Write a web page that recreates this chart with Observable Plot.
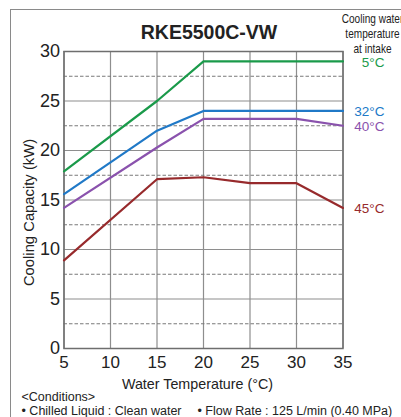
<!DOCTYPE html>
<html>
<head>
<meta charset="utf-8">
<script src="https://cdn.jsdelivr.net/npm/d3@7"></script>
<script src="https://cdn.jsdelivr.net/npm/@observablehq/plot@0.6"></script>
<style>
  html, body { margin: 0; padding: 0; background: #fff; }
  #wrap { position: relative; width: 401px; height: 417px; overflow: hidden; }
  #border { position: absolute; left: 9.5px; top: 8.5px; width: 420px; height: 430px;
            border-left: 1.3px solid #8a8a8a; border-top: 1.3px solid #8a8a8a; pointer-events: none; }
</style>
</head>
<body>
<div id="wrap"><div id="border"></div></div>
<script>
// ---- data ----
const waterTemp = [5, 15, 20, 25, 30, 35];
const cap5C  = [17.9, 25.0, 29.0, 29.0, 29.0, 29.0];
const cap32C = [15.6, 22.0, 24.0, 24.0, 24.0, 24.0];
const cap40C = [14.2, 20.3, 23.2, 23.2, 23.2, 22.5];
const cap45C = [8.9, 17.1, 17.3, 16.7, 16.7, 14.2];
const seriesNames = ["5°C", "32°C", "40°C", "45°C"];
const xTicks = [5, 10, 15, 20, 25, 30, 35];
const yTicks = [0, 5, 10, 15, 20, 25, 30];
const yMinorTicks = [2.5, 7.5, 12.5, 17.5, 22.5, 27.5];
const titleText = "RKE5500C-VW";
const legendTitle = "Cooling water\ntemperature\nat intake";
const xLabel = "Water Temperature (°C)";
const yLabel = "Cooling Capacity (kW)";
const condHead = "<Conditions>";
const cond1 = "• Chilled Liquid : Clean water";
const cond2 = "• Flow Rate : 125 L/min (0.40 MPa)";

// ---- styling ----
const seriesColors = ["#1a9a4a", "#2079c7", "#8a52ad", "#972a2c"];
const font = "'Liberation Sans', Arial, sans-serif";

const seriesValues = [cap5C, cap32C, cap40C, cap45C];
const rows = seriesNames.flatMap((s, i) => waterTemp.map((t, j) => ({series: s, t, cap: seriesValues[i][j]})));
const lastRows = seriesNames.map((s, i) => ({series: s, t: waterTemp[waterTemp.length - 1], cap: seriesValues[i][waterTemp.length - 1]}));

const chart = Plot.plot({
  width: 401,
  height: 417,
  marginLeft: 63.5,
  marginRight: 58.5,
  marginTop: 51,
  marginBottom: 69,
  style: {fontFamily: font, background: "transparent", color: "#222", overflow: "visible"},
  x: {domain: [5, 35]},
  y: {domain: [0, 30]},
  color: {domain: seriesNames, range: seriesColors},
  marks: [
    Plot.gridX({ticks: xTicks, stroke: "#8e8e8e", strokeOpacity: 1, strokeWidth: 1.2}),
    Plot.gridY({ticks: yTicks, stroke: "#8e8e8e", strokeOpacity: 1, strokeWidth: 1.2}),
    Plot.gridY({ticks: yMinorTicks, stroke: "#7a7a7a", strokeOpacity: 1, strokeWidth: 1, strokeDasharray: "3.5,2"}),
    Plot.frame({stroke: "#6e6e6e", strokeWidth: 1.5}),
    Plot.line(rows, {x: "t", y: "cap", z: "series", stroke: "series", strokeWidth: 2.2, strokeLinejoin: "miter"}),
    Plot.text(lastRows, {x: "t", y: "cap", text: "series", fill: "series", dx: 41.5, dy: 1, textAnchor: "end", lineAnchor: "middle", fontSize: 13.5}),
    Plot.axisY({ticks: yTicks, tickSize: 0, tickPadding: 4, fontSize: 18, label: null, fill: "#222"}),
    Plot.axisX({ticks: xTicks, tickSize: 0, tickPadding: 7, fontSize: 17, label: null, fill: "#222"}),
    Plot.text([titleText], {frameAnchor: "top", text: d => d, dx: 5.5, dy: -13, lineAnchor: "bottom", textAnchor: "middle", fontSize: 19.5, fontWeight: "bold", fill: "#222"}),
    Plot.text([legendTitle], {frameAnchor: "top-right", text: d => d, dx: 29.5, dy: 1, lineAnchor: "bottom", textAnchor: "middle", fontSize: 12, lineHeight: 1.25, fill: "#222", className: "legend-title"}),
    Plot.text([yLabel], {frameAnchor: "left", text: d => d, dx: -30.5, dy: 12.5, rotate: -90, lineAnchor: "bottom", textAnchor: "middle", fontSize: 14.8, fill: "#222"}),
    Plot.text([xLabel], {frameAnchor: "bottom", text: d => d, dx: -6, dy: 40, lineAnchor: "bottom", textAnchor: "middle", fontSize: 14.3, fill: "#222"}),
    Plot.text([condHead], {frameAnchor: "bottom-left", text: d => d, dx: -42.5, dy: 52, lineAnchor: "bottom", textAnchor: "start", fontSize: 12.5, fill: "#222"}),
    Plot.text([cond1], {frameAnchor: "bottom-left", text: d => d, dx: -42.5, dy: 66, lineAnchor: "bottom", textAnchor: "start", fontSize: 12.5, fill: "#222"}),
    Plot.text([cond2], {frameAnchor: "bottom-left", text: d => d, dx: 133.5, dy: 66, lineAnchor: "bottom", textAnchor: "start", fontSize: 12.5, fill: "#222"})
  ]
});
// condensed look for the legend title (horizontal squeeze around its anchor)
d3.select(chart).selectAll("g.legend-title text").each(function() {
  const t = this.getAttribute("transform") || "";
  this.setAttribute("transform", t + " scale(0.84,1)");
});
document.getElementById("wrap").appendChild(chart);
</script>
</body>
</html>
